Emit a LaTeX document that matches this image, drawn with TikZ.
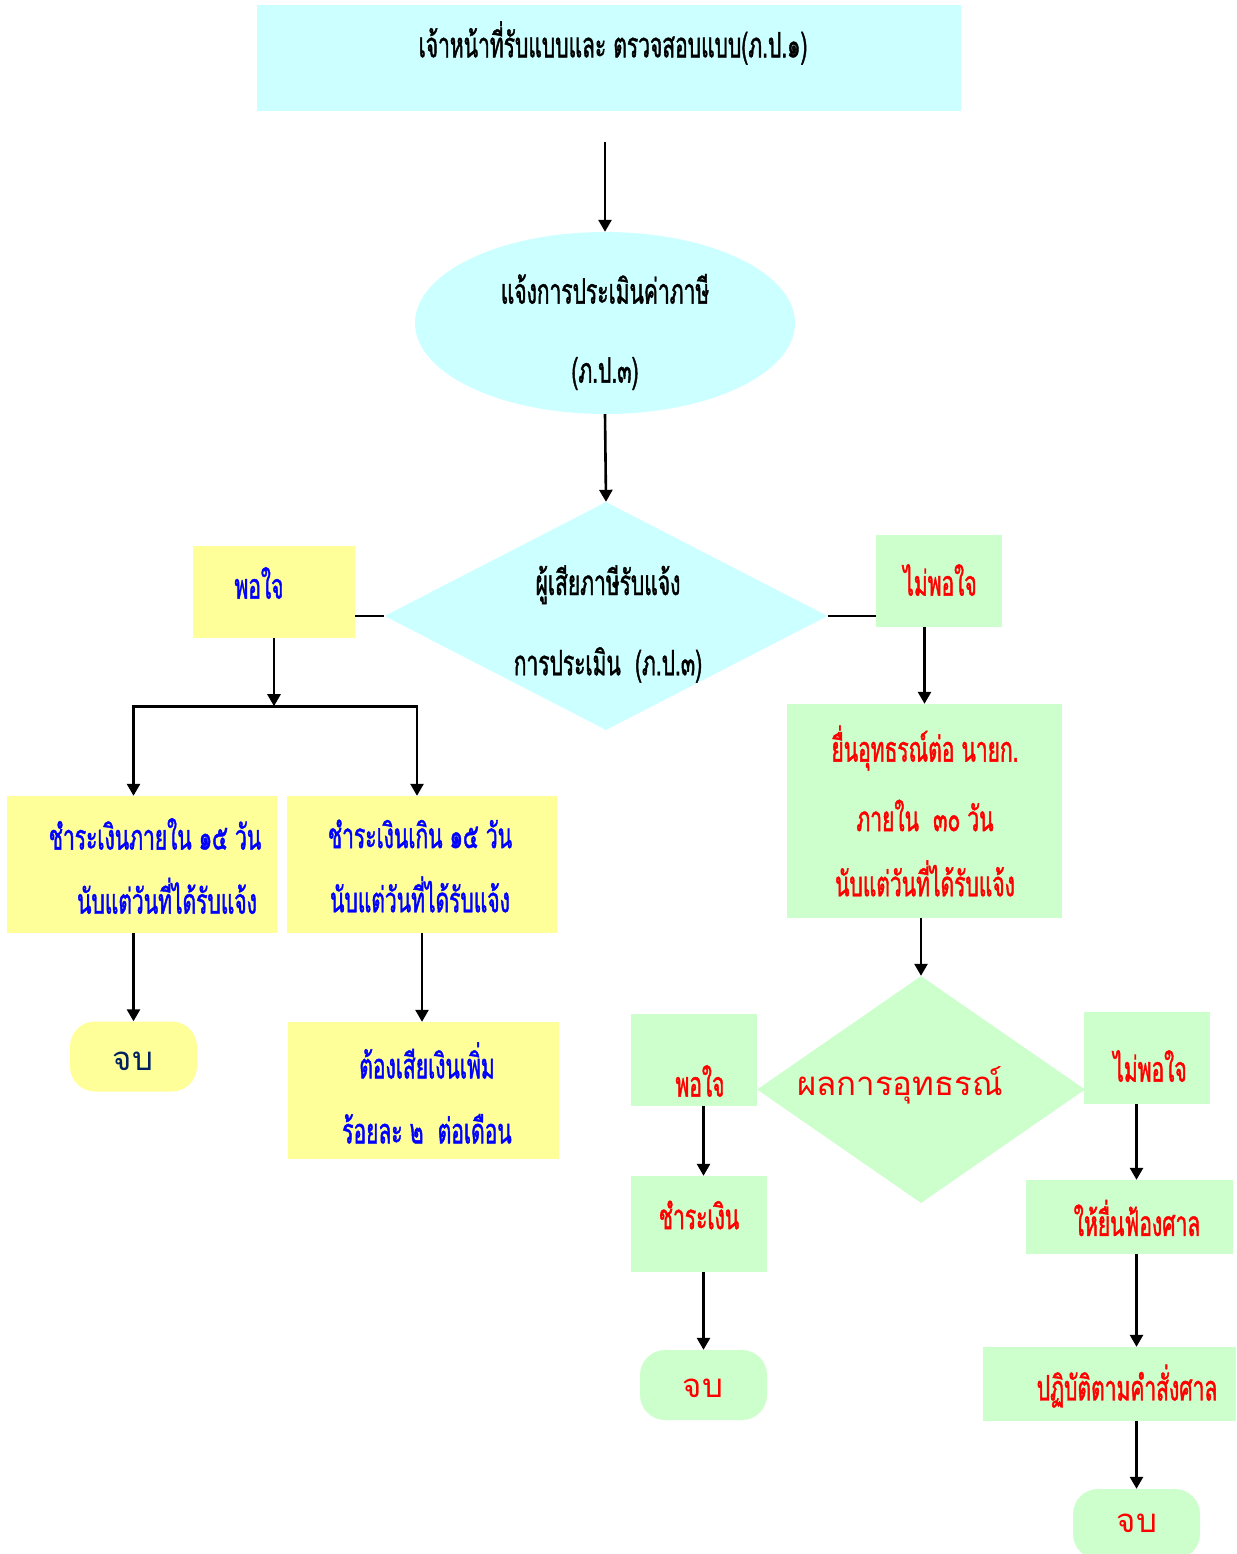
\documentclass[tikz,border=0pt]{standalone}
\usepackage{fontspec}
\newfontfamily\thaifont[Script=Thai]{Loma}
\newfontfamily\thainarrow[Script=Thai,FakeStretch=0.6,FakeBold=1.2]{Loma}
\usetikzlibrary{shapes.geometric,arrows.meta,positioning,calc}
\definecolor{skycell}{HTML}{CCFFFF}
\definecolor{lemoncell}{HTML}{FFFF99}
\definecolor{mintcell}{HTML}{CCFFCC}
\definecolor{navytext}{RGB}{0,32,96}

\tikzset{
  flow schemes/.style = {
    x = 1pt, y = -1pt,
    % boxes
    cell/.style  = { rectangle, inner sep=0pt },
    scell/.style = { cell, fill=skycell   },
    ycell/.style = { cell, fill=lemoncell },
    gcell/.style = { cell, fill=mintcell  },
    endcell/.style = {
      cell, rounded corners=25pt,
      minimum width=127pt, minimum height=70pt
    },
    % texts
    txt/.style  = {
      inner sep=0pt, align=center,
      font=\thainarrow\fontsize{35}{36}\selectfont
    },
    ktxt/.style = { txt, text=black },
    btxt/.style = { txt, text=blue  },
    rtxt/.style = { txt, text=red   },
    ltxt/.style = { inner sep=0pt, font=\thaifont\fontsize{33}{38}\selectfont },
    % lines, arrows
    connect line/.style = {line width = 2.6pt, -{Triangle[width=13pt,length=12pt]}},
    plain line/.style   = {line width = 2.4pt},
  },
  wh/.style 2 args = {minimum width=#1pt, minimum height=#2pt},
}

\begin{document}
\begin{tikzpicture}[flow schemes]
  \useasboundingbox (0,0) rectangle (1236,1554);

  % top
  \node [scell, wh={704}{106}] (title) at (609,58) {};
  \node [ktxt] (title-t) at (613,43) {เจ้าหน้าที่รับแบบและ ตรวจสอบแบบ(ภ.ป.๑)};

  \node [scell, ellipse, wh={380}{182}] (notice) at (605,323) {};
  \node [ktxt] (notice-t) at (605,332) {แจ้งการประเมินค่าภาษี\\[43pt](ภ.ป.๓)};

  \node [scell, diamond, aspect=1.94, wh={443}{228}] (decide) at (606,616) {};
  \node [ktxt] (decide-t) at (608,624) {ผู้เสียภาษีรับแจ้ง\\[42pt]การประเมิน~ (ภ.ป.๓)};

  % left branch
  \node [ycell, wh={162}{92}]  (ok)      at (274,592)     {};
  \node [ycell, wh={270}{137}] (pay15)   at (142,864.5)   {};
  \node [ycell, wh={270}{137}] (paylate) at (422,864.5)   {};
  \node [endcell, fill=lemoncell] (end1) at (133.5,1056.5) {};
  \node [ycell, wh={271}{137}] (extra)   at (423.5,1090.5) {};

  \node [btxt] (ok-t)      at (259,583)  {พอใจ};
  \node [btxt] (pay15-t)   at (155,866)  {ชำระเงินภายใน ๑๕ วัน\\[27pt]\hspace*{24pt}นับแต่วันที่ได้รับแจ้ง};
  \node [btxt] (paylate-t) at (420,866)  {ชำระเงินเกิน ๑๕ วัน\\[27pt]นับแต่วันที่ได้รับแจ้ง};
  \node [ltxt, text=navytext] (end1-t) at (133,1061) {จบ};
  \node [btxt] (extra-t)   at (427,1093) {ต้องเสียเงินเพิ่ม\\[29pt]ร้อยละ ๒~ ต่อเดือน};

  % right branch
  \node [gcell, wh={126}{92}]  (notok)  at (939,581)    {};
  \node [gcell, wh={275}{214}] (appeal) at (924.5,811)  {};
  \node [gcell, diamond, aspect=1.44, wh={328}{227}] (result) at (921,1089.5) {};
  \node [gcell, wh={126}{92}]  (ok2)    at (694,1060)   {};
  \node [gcell, wh={126}{92}]  (notok2) at (1147,1058)  {};
  \node [gcell, wh={136}{96}]  (pay)    at (699,1224)   {};
  \node [endcell, fill=mintcell] (end2) at (703.5,1385) {};
  \node [gcell, wh={207}{74}]  (sue)    at (1129.5,1217) {};
  \node [gcell, wh={253}{74}]  (obey)   at (1109.5,1384) {};
  \node [endcell, fill=mintcell] (end3) at (1136.5,1524) {};

  \node [rtxt] (notok-t)  at (940,580)  {ไม่พอใจ};
  \node [rtxt] (appeal-t) at (925,811)  {ยื่นอุทธรณ์ต่อ นายก.\\[28pt]ภายใน~ ๓๐ วัน\\[28pt]นับแต่วันที่ได้รับแจ้ง};
  \node [ltxt, text=red] (result-t) at (900,1085) {ผลการอุทธรณ์};
  \node [rtxt] (ok2-t)    at (700,1081) {พอใจ};
  \node [rtxt] (notok2-t) at (1150,1066) {ไม่พอใจ};
  \node [rtxt] (pay-t)    at (699,1215) {ชำระเงิน};
  \node [ltxt, text=red] (end2-t) at (703,1388) {จบ};
  \node [rtxt] (sue-t)    at (1137,1218) {ให้ยื่นฟ้องศาล};
  \node [rtxt] (obey-t)   at (1127,1386) {ปฏิบัติตามคำสั่งศาล};
  \node [ltxt, text=red] (end3-t) at (1137,1523) {จบ};

  % connectors
  \draw[connect line, shorten <=31pt] (title.south -| notice.north) -- (notice.north);
  \draw[connect line] (notice.south) -- (decide.north);
  \draw[plain line] (ok.east |- decide.west) -- (decide.west);
  \draw[plain line] (decide.east) -- (decide.east -| notok.west);

  \path (ok.south) ++(0,68) coordinate (split);
  \draw[connect line] (ok.south) -- (split);
  \draw[connect line] (split) -| (end1.north |- pay15.north);
  \draw[connect line] (split) -| ([xshift=-5pt]paylate.north);
  \draw[connect line] (end1.north |- pay15.south) -- (end1.north);
  \draw[connect line] (paylate.south) -- (paylate.south |- extra.north);

  \draw[connect line] (appeal.north |- notok.south) -- (appeal.north);
  \draw[connect line] (result.north |- appeal.south) -- (result.north);
  \draw[connect line] (end2.north |- ok2.south) -- (end2.north |- pay.north);
  \draw[connect line] (end2.north |- pay.south) -- (end2.north);
  \draw[connect line] (end3.north |- notok2.south) -- (end3.north |- sue.north);
  \draw[connect line] (end3.north |- sue.south) -- (end3.north |- obey.north);
  \draw[connect line] (end3.north |- obey.south) -- (end3.north);

\end{tikzpicture}
\end{document}
